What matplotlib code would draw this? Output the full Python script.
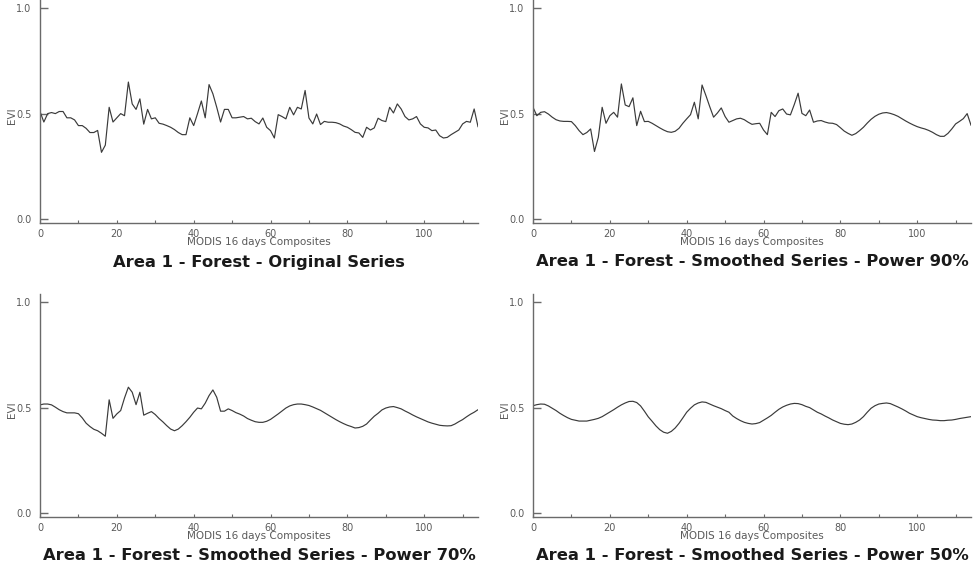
import matplotlib
matplotlib.use("Agg")
import matplotlib.pyplot as plt
import numpy as np

x_values = list(range(115))

original = [0.51, 0.46, 0.50, 0.505, 0.50, 0.51, 0.51, 0.48, 0.48, 0.47,
            0.443, 0.443, 0.43, 0.41, 0.41, 0.42, 0.316, 0.35, 0.53, 0.46,
            0.48, 0.50, 0.49, 0.65, 0.546, 0.52, 0.57, 0.45, 0.52, 0.475,
            0.48, 0.454, 0.45, 0.443, 0.435, 0.424, 0.41, 0.40, 0.40, 0.48,
            0.443, 0.50, 0.56, 0.48, 0.638, 0.594, 0.53, 0.46, 0.52, 0.52,
            0.48, 0.48,
            0.483, 0.486, 0.475, 0.478, 0.462, 0.451, 0.479, 0.435, 0.419, 0.384,
            0.495, 0.486, 0.475, 0.530, 0.494, 0.530, 0.522, 0.610, 0.479, 0.451,
            0.498, 0.448, 0.463, 0.459, 0.459, 0.457, 0.451, 0.441, 0.435, 0.424,
            0.411, 0.408, 0.387, 0.435, 0.422, 0.432, 0.478, 0.467, 0.462, 0.530,
            0.503, 0.546, 0.522, 0.486, 0.470, 0.475, 0.486, 0.451, 0.435, 0.432,
            0.419, 0.422, 0.395, 0.384, 0.387, 0.400, 0.411, 0.422, 0.451, 0.463,
            0.459, 0.522, 0.438]

power90 = [0.530, 0.490, 0.506, 0.509, 0.498, 0.483, 0.471, 0.465, 0.463, 0.463,
           0.462, 0.443, 0.419, 0.400, 0.410, 0.427, 0.320, 0.387, 0.530, 0.454,
           0.490, 0.506, 0.483, 0.641, 0.541, 0.533, 0.575, 0.443, 0.511, 0.462,
           0.463, 0.454, 0.443, 0.432, 0.422, 0.414, 0.411, 0.416, 0.430, 0.454,
           0.475, 0.495, 0.554, 0.475, 0.636, 0.586, 0.533, 0.483, 0.503, 0.527,
           0.486, 0.459, 0.467, 0.475, 0.478, 0.471, 0.459, 0.449, 0.452, 0.454,
           0.422, 0.400, 0.506, 0.486, 0.514, 0.522, 0.498, 0.494, 0.543, 0.597,
           0.501, 0.490, 0.517, 0.459, 0.465, 0.467, 0.460, 0.455, 0.454, 0.448,
           0.433, 0.417, 0.406, 0.397, 0.405, 0.419, 0.435, 0.455, 0.473, 0.487,
           0.497, 0.503, 0.505, 0.501, 0.495, 0.487, 0.476, 0.465, 0.455, 0.446,
           0.438, 0.432, 0.427, 0.420, 0.411, 0.400, 0.392, 0.392, 0.406, 0.427,
           0.451, 0.463, 0.476, 0.500, 0.445]

power70 = [0.513, 0.517, 0.517, 0.513, 0.502, 0.490, 0.481, 0.475, 0.475, 0.475,
           0.471, 0.451, 0.426, 0.410, 0.397, 0.390, 0.378, 0.364, 0.537, 0.449,
           0.470, 0.486, 0.546, 0.597, 0.573, 0.514, 0.573, 0.464, 0.473, 0.481,
           0.467, 0.448, 0.432, 0.414, 0.398, 0.390, 0.398, 0.414, 0.433, 0.454,
           0.478, 0.498, 0.494, 0.521, 0.557, 0.584, 0.549, 0.483, 0.483, 0.494,
           0.486, 0.476, 0.469, 0.460, 0.448, 0.440, 0.433, 0.430, 0.430, 0.435,
           0.444, 0.457, 0.470, 0.484, 0.498, 0.508, 0.514, 0.517, 0.517, 0.514,
           0.510, 0.503, 0.495, 0.487, 0.476, 0.465, 0.454, 0.443, 0.433, 0.424,
           0.416, 0.410, 0.403, 0.405, 0.411, 0.422, 0.441, 0.459, 0.473, 0.489,
           0.498, 0.503, 0.505, 0.500, 0.494, 0.484, 0.475, 0.465, 0.456, 0.448,
           0.440, 0.432, 0.426, 0.421, 0.416, 0.414, 0.413, 0.414, 0.422, 0.433,
           0.443, 0.456, 0.468, 0.478, 0.490]

power50 = [0.509, 0.514, 0.517, 0.516, 0.508, 0.497, 0.486, 0.473, 0.462, 0.452,
           0.444, 0.440, 0.436, 0.436, 0.436, 0.440, 0.444, 0.449, 0.457, 0.468,
           0.479, 0.490, 0.502, 0.513, 0.522, 0.529, 0.530, 0.524, 0.508, 0.483,
           0.456, 0.435, 0.413, 0.395, 0.383, 0.378, 0.387, 0.403, 0.425, 0.451,
           0.478, 0.497, 0.513, 0.522, 0.527, 0.525, 0.517, 0.509, 0.502, 0.495,
           0.486, 0.478, 0.460, 0.448, 0.438, 0.430, 0.425, 0.422, 0.424, 0.429,
           0.440, 0.451, 0.463, 0.478, 0.492, 0.503, 0.511, 0.517, 0.520, 0.519,
           0.514, 0.506, 0.500, 0.489, 0.478, 0.470, 0.460, 0.451, 0.441, 0.433,
           0.425, 0.421, 0.419, 0.422, 0.430, 0.441, 0.457, 0.478, 0.497, 0.509,
           0.517, 0.520, 0.522, 0.519, 0.511, 0.503, 0.494, 0.484, 0.473, 0.465,
           0.457, 0.452, 0.448, 0.444, 0.441, 0.440, 0.438, 0.438, 0.440, 0.441,
           0.444, 0.448, 0.451, 0.454, 0.457]

titles = ["Area 1 - Forest - Original Series",
          "Area 1 - Forest - Smoothed Series - Power 90%",
          "Area 1 - Forest - Smoothed Series - Power 70%",
          "Area 1 - Forest - Smoothed Series - Power 50%"]
series = [original, power90, power70, power50]
x_label = "MODIS 16 days Composites"
y_label = "EVI"
y_ticks = [0.0, 0.5, 1.0]
x_major = [0, 20, 40, 60, 80, 100]

W, H = 980, 575
fig = plt.figure(figsize=(W / 100, H / 100), dpi=100)

# pixel boxes: (left, top, width, height)
boxes = [(40, 0, 438, 223), (533, 0, 438, 223),
         (40, 294, 438, 223), (533, 294, 438, 223)]

axis_col = "#6a6a6a"
text_col = "#5a5a5a"

for (l, t, w, h), ys, title in zip(boxes, series, titles):
    ax = fig.add_axes([l / W, 1 - (t + h) / H, w / W, h / H])
    ax.plot(x_values, ys, color="#3a3a3a", lw=0.85)
    ax.set_xlim(0, 114)
    ax.set_ylim(-0.02, 1.04)
    for s in ["top", "right"]:
        ax.spines[s].set_visible(False)
    for s in ["left", "bottom"]:
        ax.spines[s].set_color(axis_col)
        ax.spines[s].set_linewidth(1.0)
    ax.set_yticks(y_ticks)
    ax.set_yticklabels(["0.0", "0.5", "1.0"])
    ax.set_xticks(x_major)
    ax.set_xticks(list(range(0, 115, 10)), minor=True)
    ax.tick_params(axis="y", direction="in", length=6, width=1.0,
                   color=axis_col, labelsize=7, labelcolor=text_col, pad=6)
    ax.tick_params(axis="x", which="both", direction="in", length=2.5, width=0.8,
                   color=axis_col, labelsize=7, labelcolor=text_col, pad=4)
    ax.set_xlabel(x_label, fontsize=7.5, color=text_col)
    ax.xaxis.set_label_coords(0.5, -19 / h)
    ax.xaxis.label.set_va("center")
    ax.set_ylabel(y_label, fontsize=7.5, color=text_col)
    ax.yaxis.set_label_coords(-28 / w, (223 - 116) / h)
    ax.yaxis.label.set_va("center")
    fig.text((l + w / 2) / W, 1 - (t + h + 39) / H, title, ha="center",
             va="center", fontsize=11.8, fontweight="bold", color="#1a1a1a",
             family="DejaVu Sans")

fig.savefig("out.png", dpi=100, facecolor="white")
